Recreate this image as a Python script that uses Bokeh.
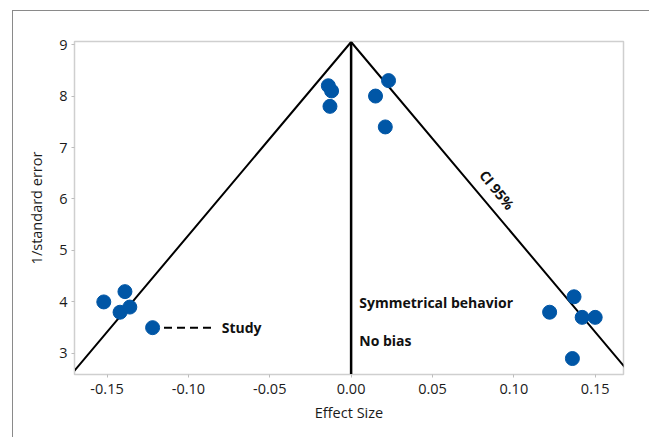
from bokeh.plotting import figure
from bokeh.models import ColumnDataSource, Label, FixedTicker, NumeralTickFormatter, Range1d
from bokeh.layouts import column
from bokeh.embed import file_html
from bokeh.resources import INLINE

# Study data (effect size, 1/standard error)
effect = [-0.152, -0.139, -0.142, -0.136, -0.122,
          0.122, 0.137, 0.142, 0.150, 0.136,
          -0.014, -0.012, -0.013, 0.015, 0.023, 0.021]
precision = [4.0, 4.2, 3.8, 3.9, 3.5,
             3.8, 4.1, 3.7, 3.7, 2.9,
             8.2, 8.1, 7.8, 8.0, 8.3, 7.4]

# Funnel (CI 95%) boundaries
funnel_x = [-0.172, 0.0, 0.172]
funnel_y = [2.59, 9.05, 2.59]
# No-bias line
center_x = [0.0, 0.0]
center_y = [2.4, 9.05]

x_ticks = [-0.15, -0.10, -0.05, 0.0, 0.05, 0.10, 0.15]
y_ticks = [3, 4, 5, 6, 7, 8, 9]

FONT = "Open Sans"
BLUE = "#0056A6"

p = figure(width=636, height=426, output_backend="svg", toolbar_location=None,
           x_range=Range1d(-0.170, 0.1674), y_range=Range1d(2.59, 9.06),
           min_border_left=61, min_border_top=30, min_border_right=26, min_border_bottom=63)
p.grid.visible = False
p.outline_line_color = "#cfcfcf"
p.outline_line_width = 1.5
p.background_fill_color = "white"
p.border_fill_color = "white"

for ax in (p.xaxis, p.yaxis):
    ax.axis_line_color = "#cfcfcf"
    ax.major_tick_line_color = "#bdbdbd"
    ax.major_tick_out = 3
    ax.major_tick_in = 0
    ax.minor_tick_line_color = None
    ax.major_label_text_font = FONT
    ax.major_label_text_font_size = "14.5px"
    ax.major_label_text_color = "#1a1a1a"
    ax.axis_label_text_font = FONT
    ax.axis_label_text_font_size = "14.5px"
    ax.axis_label_text_font_style = "normal"
    ax.axis_label_text_color = "#1a1a1a"

p.xaxis.ticker = FixedTicker(ticks=x_ticks)
p.xaxis.formatter = NumeralTickFormatter(format="0.00")
p.yaxis.ticker = FixedTicker(ticks=y_ticks)
p.xaxis.axis_label = "Effect Size"
p.yaxis.axis_label = "1/standard error"
p.xaxis.major_label_standoff = 6
p.xaxis.axis_label_standoff = 6
p.yaxis.major_label_standoff = 4
p.yaxis.axis_label_standoff = 10

p.line(funnel_x, funnel_y, line_color="black", line_width=2)
p.line(center_x, center_y, line_color="black", line_width=2.5)

src = ColumnDataSource(dict(x=effect, y=precision))
p.scatter("x", "y", source=src, size=14, fill_color=BLUE, line_color=BLUE)

# "Study" callout
study_line_x = [-0.115, -0.084]
study_line_y = [3.5, 3.5]
p.line(study_line_x, study_line_y, line_color="black", line_width=2, line_dash="8 5")
p.add_layout(Label(x=-0.0795, y=3.5, text="Study", text_font=FONT, text_font_size="14px",
                   text_font_style="bold", text_baseline="middle", text_color="#111111"))

p.add_layout(Label(x=0.005, y=3.98, text="Symmetrical behavior", text_font=FONT,
                   text_font_size="14px", text_font_style="bold", text_baseline="middle",
                   text_color="#111111"))
p.add_layout(Label(x=0.005, y=3.25, text="No bias", text_font=FONT,
                   text_font_size="14px", text_font_style="bold", text_baseline="middle",
                   text_color="#111111"))
p.add_layout(Label(x=0.0873, y=6.12, text="CI 95%", text_font=FONT,
                   text_font_size="14px", text_font_style="bold", text_baseline="middle",
                   text_align="center", angle=-0.895, x_offset=4, y_offset=3,
                   text_color="#111111"))

layout = column(p, margin=(10, 0, 0, 12),
                styles={"border-left": "1px solid #8a8a8a", "border-top": "1px solid #8a8a8a"})

open("out.html", "w").write(file_html(layout, INLINE))
